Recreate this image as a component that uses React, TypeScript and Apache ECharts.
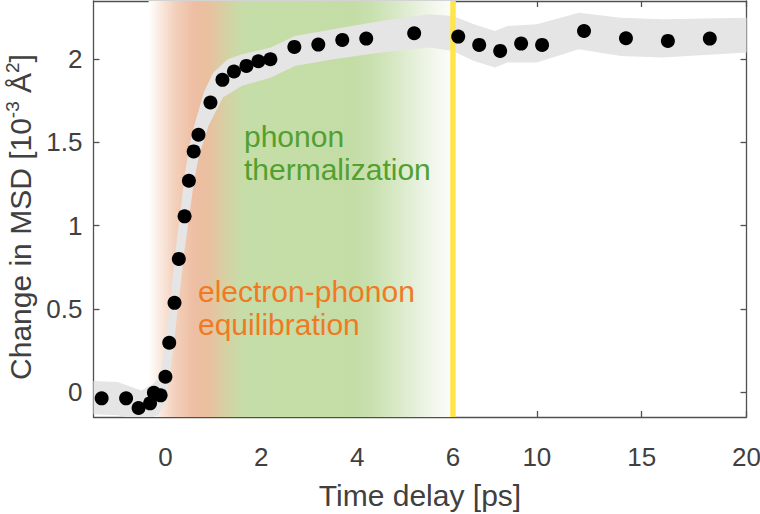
import React, { useEffect, useRef } from "react";
import * as echarts from "echarts";

// ---- data ----
const timeDelay = [
  -1.33, -0.82, -0.56, -0.32, -0.24, -0.1, 0.0, 0.08, 0.19, 0.28, 0.4, 0.49, 0.59, 0.69,
  0.94, 1.19, 1.43, 1.69, 1.94, 2.19, 2.69, 3.19, 3.69, 4.19, 5.19, 6.25, 7.25, 8.25,
  9.25, 10.25, 12.25, 14.25, 16.25, 18.25,
];
const msdChange = [
  -0.038, -0.038, -0.096, -0.068, -0.004, -0.02, 0.092, 0.296, 0.536, 0.8, 1.056, 1.27,
  1.446, 1.546, 1.74, 1.876, 1.926, 1.96, 1.988, 2.0, 2.074, 2.088, 2.116, 2.124, 2.156,
  2.136, 2.086, 2.05, 2.094, 2.086, 2.17, 2.126, 2.11, 2.124,
];

// uncertainty envelope (upper and lower boundaries)
const bandUpperX = [
  -1.5, -1.0, -0.5, -0.25, -0.1, 0.0, 0.1, 0.2, 0.3, 0.4, 0.5, 0.6, 0.8, 1.0, 1.3, 1.6,
  2.2, 2.7, 3.5, 4.5, 5.5, 6.0, 7.0, 8.0, 8.6, 10.0, 12.0, 14.0, 16.0, 20.0,
];
const bandUpperY = [
  0.066, 0.06, 0.01, 0.05, 0.1, 0.3, 0.55, 0.82, 1.06, 1.3, 1.48, 1.6, 1.8, 1.92, 2.0,
  2.03, 2.07, 2.14, 2.18, 2.23, 2.27, 2.26, 2.21, 2.17, 2.2, 2.21, 2.28, 2.25, 2.24, 2.25,
];
const bandLowerX = [
  -1.5, -1.0, -0.5, -0.15, 0.0, 0.1, 0.2, 0.3, 0.4, 0.5, 0.6, 0.7, 0.9, 1.2, 1.6, 2.2,
  2.7, 3.5, 4.5, 5.5, 6.0, 7.0, 8.0, 8.6, 10.0, 12.0, 14.0, 16.0, 20.0,
];
const bandLowerY = [
  -0.134, -0.14, -0.17, -0.14, -0.06, 0.12, 0.35, 0.6, 0.85, 1.07, 1.27, 1.42, 1.6, 1.77,
  1.84, 1.89, 1.96, 2.0, 2.04, 2.07, 2.05, 1.99, 1.95, 1.98, 1.98, 2.06, 2.02, 2.01, 2.04,
];

const xTickValues = [0, 2, 4, 6, 10, 15, 20];
const yTickValues = [0, 0.5, 1, 1.5, 2];
const yTickLabels = ["0", "0.5", "1", "1.5", "2"];

const xMin = -1.5;
const xMax = 20;
const yMin = -0.15;
const yMax = 2.35;
const axisBreak = 6; // axis is compressed beyond 6 ps
const compress = 0.4374;
const shadeStart = -0.35;
const shadeEnd = 6;
const markerTime = 6;

const shadeStops: [number, string][] = [
  [-0.35, "rgb(255,255,255)"],
  [-0.1, "rgb(250,233,223)"],
  [0.2, "rgb(243,208,188)"],
  [0.6, "rgb(238,190,162)"],
  [0.9, "rgb(233,192,160)"],
  [1.25, "rgb(215,208,163)"],
  [1.6, "rgb(198,221,168)"],
  [3.9, "rgb(196,221,167)"],
  [4.3, "rgb(200,224,174)"],
  [5.0, "rgb(222,236,207)"],
  [5.6, "rgb(242,247,237)"],
  [6.0, "rgb(252,253,250)"],
];

const tx = (x: number) => (x <= axisBreak ? x : axisBreak + (x - axisBreak) * compress);
const itx = (t: number) => (t <= axisBreak ? t : axisBreak + (t - axisBreak) / compress);

const FONT = "'Liberation Sans', Arial, sans-serif";
const TXT = "#404040";
const AX = "#505050";

export default function App() {
  const ref = useRef<HTMLDivElement>(null);
  useEffect(() => {
    if (!ref.current) return;
    const chart = echarts.init(ref.current, undefined, { renderer: "svg" });
    const xTicksT = xTickValues.map(tx);
    const gradient = new echarts.graphic.LinearGradient(
      0,
      0,
      1,
      0,
      shadeStops.map(([x, c]) => ({
        offset: (x - shadeStart) / (shadeEnd - shadeStart),
        color: c,
      }))
    );
    const axisLineStyle = { show: true, onZero: false, lineStyle: { color: AX, width: 1.3 } };
    const tickStyle = { length: 6, lineStyle: { color: AX, width: 1.3 } };
    chart.setOption({
      animation: false,
      grid: {
        left: 93.5,
        right: 13.5,
        top: 1,
        bottom: 97,
        containLabel: false,
        outerBoundsMode: "none",
      },
      xAxis: [
        {
          type: "value",
          min: tx(xMin),
          max: tx(xMax),
          position: "bottom",
          axisLine: axisLineStyle,
          splitLine: { show: false },
          axisTick: { show: true, inside: true, customValues: xTicksT, ...tickStyle },
          axisLabel: {
            show: true,
            customValues: xTicksT,
            formatter: (v: number) => String(Math.round(itx(v))),
            margin: 27,
            fontSize: 26,
            fontFamily: FONT,
            color: TXT,
            showMinLabel: true,
            showMaxLabel: true,
          },
          name: "Time delay [ps]",
          nameLocation: "middle",
          nameGap: 63,
          nameTextStyle: { fontSize: 30, fontFamily: FONT, color: TXT },
        },
        {
          type: "value",
          min: tx(xMin),
          max: tx(xMax),
          position: "top",
          axisLine: axisLineStyle,
          splitLine: { show: false },
          axisTick: { show: true, inside: true, customValues: xTicksT, ...tickStyle },
          axisLabel: { show: false },
        },
      ],
      yAxis: [
        {
          type: "value",
          min: yMin,
          max: yMax,
          position: "left",
          axisLine: axisLineStyle,
          splitLine: { show: false },
          axisTick: { show: true, inside: true, customValues: yTickValues, ...tickStyle },
          axisLabel: {
            show: true,
            customValues: yTickValues,
            formatter: (v: number) => {
              const i = yTickValues.findIndex((t) => Math.abs(t - v) < 1e-6);
              return i >= 0 ? yTickLabels[i] : "";
            },
            margin: 11,
            fontSize: 26,
            fontFamily: FONT,
            color: TXT,
          },
          name: "{a|Change in MSD [10}{s|-3}{a| Å}{s|2}{a|]}",
          nameLocation: "middle",
          nameGap: 56,
          nameRotate: 90,
          nameTextStyle: {
            fontFamily: FONT,
            color: TXT,
            padding: [0, 16, 0, 0],
            rich: {
              a: { fontSize: 30, fontFamily: FONT, color: TXT, lineHeight: 34 },
              s: { fontSize: 19, fontFamily: FONT, color: TXT, verticalAlign: "top", lineHeight: 19 },
            },
          },
        },
        {
          type: "value",
          min: yMin,
          max: yMax,
          position: "right",
          axisLine: axisLineStyle,
          splitLine: { show: false },
          axisTick: { show: true, inside: true, customValues: yTickValues, ...tickStyle },
          axisLabel: { show: false },
        },
      ],
      series: [
        {
          type: "custom",
          silent: true,
          z: 1,
          clip: true,
          data: [[0, 0]],
          renderItem: (_p: any, api: any) => {
            const a = api.coord([tx(shadeStart), yMax]);
            const b = api.coord([tx(shadeEnd), yMin]);
            return {
              type: "rect",
              shape: { x: a[0], y: a[1], width: b[0] - a[0], height: b[1] - a[1] },
              style: { fill: gradient },
            };
          },
        },
        {
          type: "custom",
          silent: true,
          z: 2,
          clip: true,
          data: [[0, 0]],
          renderItem: (_p: any, api: any) => {
            const up = bandUpperX.map((x, i) => api.coord([tx(x), bandUpperY[i]]));
            const lo = bandLowerX.map((x, i) => api.coord([tx(x), bandLowerY[i]])).reverse();
            return {
              type: "polygon",
              shape: { points: up.concat(lo) },
              style: { fill: "#e5e5e5" },
            };
          },
        },
        {
          type: "custom",
          silent: true,
          z: 3,
          clip: true,
          data: [[0, 0]],
          renderItem: (_p: any, api: any) => {
            const a = api.coord([tx(markerTime), yMin]);
            const b = api.coord([tx(markerTime), yMax]);
            return {
              type: "line",
              shape: { x1: a[0], y1: a[1], x2: b[0], y2: b[1] },
              style: { stroke: "#ffe54a", lineWidth: 5.5 },
            };
          },
        },
        {
          type: "scatter",
          z: 5,
          symbol: "circle",
          symbolSize: 14,
          itemStyle: { color: "#000000", opacity: 1 },
          data: timeDelay.map((x, i) => [tx(x), msdChange[i]]),
        },
      ],
      graphic: [
        {
          type: "text",
          left: 244,
          top: 120,
          z: 10,
          style: {
            text: "phonon\nthermalization",
            fill: "#52a030",
            fontSize: 30,
            fontFamily: FONT,
            lineHeight: 33,
          },
        },
        {
          type: "text",
          left: 198,
          top: 275,
          z: 10,
          style: {
            text: "electron-phonon\nequilibration",
            fill: "#f07a24",
            fontSize: 30,
            fontFamily: FONT,
            lineHeight: 33,
          },
        },
      ],
    });
    return () => chart.dispose();
  }, []);
  return (
    <div
      ref={ref}
      style={{ position: "absolute", left: 0, top: 0, width: 760, height: 514 }}
    />
  );
}
